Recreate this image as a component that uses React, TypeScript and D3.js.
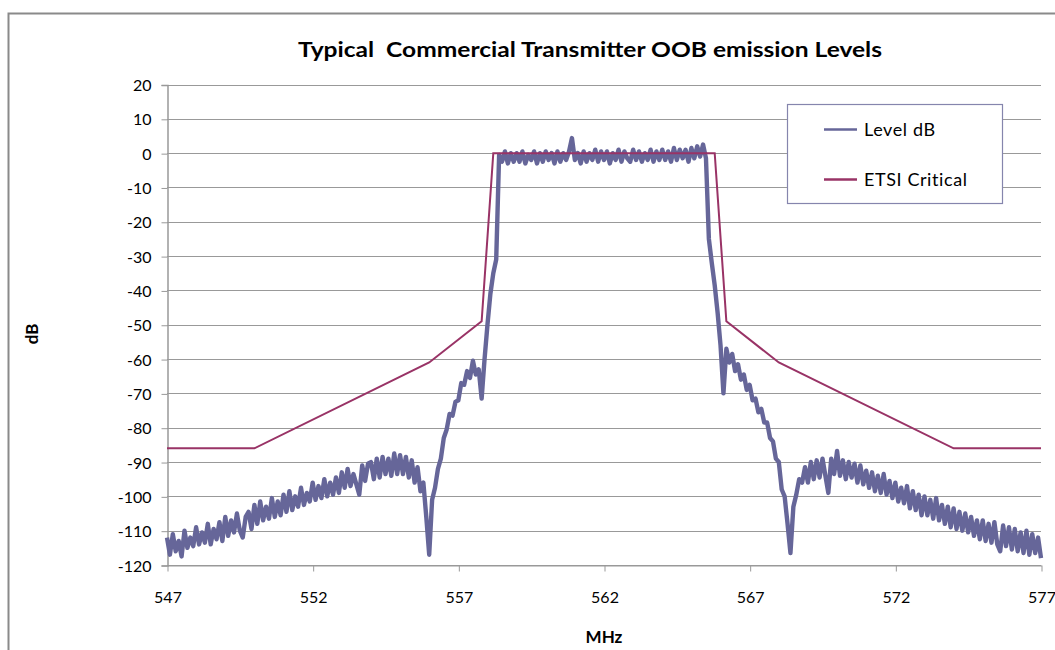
import * as d3 from "d3";
import { useEffect, useRef } from "react";

// x axis ticks (MHz) and y axis ticks (dB)
const freqTicks = [547, 552, 557, 562, 567, 572, 577];
const dbTicks = [-120, -110, -100, -90, -80, -70, -60, -50, -40, -30, -20, -10, 0, 10, 20];

// ETSI Critical mask
const etsiFreq = [547, 550, 556, 557.8, 558.2, 565.8, 566.2, 568, 574, 577];
const etsiDb = [-86, -86, -61, -49, 0, 0, -49, -61, -86, -86];

// measured level, one value per 0.1 MHz starting at 547.0 (one row per MHz)
const levelStart = 547;
const levelStep = 0.1;
const levelDb = [
    -112, -117, -111, -116, -113, -117.5, -110, -115, -112, -114.5, // 547
    -109, -114, -110.5, -113.5, -108, -114, -109.5, -112.5, -107.5, -113, // 548
    -106, -111.5, -107, -110.5, -105, -110, -112, -106, -104.5, -109.5, // 549
    -102.5, -108, -101.5, -107, -103, -106.5, -100.5, -106, -101.5, -105.5, // 550
    -99.5, -104.5, -98.5, -104, -100, -103, -97.5, -102.5, -99, -101.5, // 551
    -96, -101, -97, -100.5, -95, -100, -96, -99.5, -94.5, -99, // 552
    -93, -97.5, -92, -97, -93.5, -96.5, -99.5, -91, -95.5, -90.5, // 553
    -90, -95, -89, -94.5, -88.5, -93.5, -89, -94, -87.5, -93.5, // 554
    -88, -93.5, -88.5, -94.5, -89.5, -96, -91.5, -98.5, -96, -106, // 555
    -117, -101, -97.5, -92, -89, -83, -80.5, -76, -76.5, -72.5, // 556
    -72, -67, -67.5, -63.5, -65.5, -60.5, -64.5, -63, -71.5, -60, // 557
    -50, -41, -35, -31, -0.5, -2.5, 0.5, -3, 0, -2.5, // 558
    0, -2.5, 0.5, -3, -0.5, -2, 0.5, -3, 0, -2.5, // 559
    0.5, -2, 0, -3, 0.5, -2.5, 0, -2, 0.5, 4.4, // 560
    -2, 0, -3, 0.5, -2.5, 0, -2, 1, -2.5, 0.5, // 561
    -2, 0.5, -3, 0, -2, 1, -2.5, 0.5, -1.5, -2.5, // 562
    1, -2, 0.5, -2.5, 0, -2, 1, -2.5, 0.5, -2, // 563
    1, -2, 0.5, -2.5, 1.5, -2, 1, -1.5, 1, -2.5, // 564
    1.5, -1.5, 2, -1, 2.5, -1.5, -25, -32, -38.5, -46.5, // 565
    -56, -70, -57, -61, -58.5, -63.5, -61.5, -66, -64.5, -69, // 566
    -67.5, -72, -71.5, -75.5, -74.5, -78.5, -78.5, -83, -84, -89, // 567
    -90, -98, -100, -108, -116.5, -103, -99.5, -95, -96, -91.5, // 568
    -96, -90, -95, -89.5, -94.5, -89, -94, -99, -89, -93.5, // 569
    -86.8, -94, -89.5, -95, -90, -94.5, -90.5, -96, -91, -96.5, // 570
    -92.5, -97.5, -93, -98.5, -94, -99, -93.5, -99.5, -95.5, -100.5, // 571
    -96, -101.5, -97.5, -102, -97, -103.5, -98.5, -104, -99.5, -105.5, // 572
    -100, -105.5, -101, -106.5, -100.5, -107, -102.5, -108, -103, -109, // 573
    -103.5, -109.5, -104.5, -110, -105, -110.5, -106, -111.5, -107, -112.5, // 574
    -107, -113, -108, -113.5, -107.5, -114, -116, -108.5, -114.5, -109, // 575
    -115.5, -109.5, -116, -110.5, -116.5, -110, -117, -111, -116.5, -112, // 576
    -118 // 577
];

const seriesNames = ["Level dB", "ETSI Critical"];
const seriesColors = ["#666699", "#993366"];

export default function App() {
    const ref = useRef(null);

    useEffect(() => {
        const width = 1055, height = 650;
        const left = 167, right = 1041, top = 84.5, bottom = 565;
        const font = "Lato, 'Open Sans', sans-serif";

        const svg = d3.select(ref.current);
        svg.selectAll("*").remove();
        svg.attr("width", width).attr("height", height);

        const x = d3.scaleLinear().domain([547, 577]).range([left, right]);
        const y = d3.scaleLinear().domain([-120, 20]).range([bottom, top]);

        // chart frame (clipped on the right and bottom)
        svg.append("path")
            .attr("d", `M8.5,${height} V13.5 H${width}`)
            .attr("fill", "none")
            .attr("stroke", "#8a8a8a")
            .attr("stroke-width", 2);

        // title
        svg.append("text")
            .attr("x", 590)
            .attr("y", 57)
            .attr("text-anchor", "middle")
            .attr("font-family", font)
            .attr("font-weight", "bold")
            .attr("font-size", 20)
            .attr("textLength", 584)
            .attr("lengthAdjust", "spacingAndGlyphs")
            .text("Typical  Commercial Transmitter OOB emission Levels")
            .style("white-space", "pre");

        // gridlines
        svg.append("g")
            .selectAll("line")
            .data(dbTicks)
            .enter()
            .append("line")
            .attr("x1", left)
            .attr("x2", right)
            .attr("y1", d => Math.round(y(d)) + 0.5)
            .attr("y2", d => Math.round(y(d)) + 0.5)
            .attr("stroke", "#999")
            .attr("stroke-width", 1);

        // y axis
        const yAxis = svg.append("g")
            .attr("transform", `translate(${left + 0.5},0.5)`)
            .call(d3.axisLeft(y).tickValues(dbTicks).tickSize(6).tickPadding(10).tickFormat(d => String(d)));
        yAxis.select(".domain").attr("stroke", "#999").attr("stroke-width", 1.5);
        yAxis.selectAll(".tick line").attr("stroke", "#999");
        yAxis.selectAll(".tick text")
            .attr("font-family", font)
            .attr("font-size", 16)
            .attr("fill", "#000")
            .attr("dy", "0.35em");

        // x axis
        const xAxis = svg.append("g")
            .attr("transform", `translate(0.5,${Math.round(bottom) + 0.5})`)
            .call(d3.axisBottom(x).tickValues(freqTicks).tickSize(6).tickPadding(20).tickSizeOuter(0).tickFormat(d => String(d)));
        xAxis.select(".domain").attr("stroke", "#999").attr("stroke-width", 1);
        xAxis.selectAll(".tick line").attr("stroke", "#999");
        xAxis.selectAll(".tick text")
            .attr("font-family", font)
            .attr("font-size", 16)
            .attr("fill", "#000");

        // axis titles
        svg.append("text")
            .attr("transform", "translate(38,334) rotate(-90)")
            .attr("text-anchor", "middle")
            .attr("font-family", font)
            .attr("font-weight", "bold")
            .attr("font-size", 17)
            .text("dB");

        svg.append("text")
            .attr("x", 604)
            .attr("y", 643)
            .attr("text-anchor", "middle")
            .attr("font-family", font)
            .attr("font-weight", "bold")
            .attr("font-size", 17)
            .text("MHz");

        const line = d3.line()
            .x(d => x(d[0]))
            .y(d => y(d[1]));

        const levelPoints = levelDb.map((v, i) => [levelStart + i * levelStep, v]);
        const etsiPoints = etsiFreq.map((f, i) => [f, etsiDb[i]]);

        svg.append("path")
            .datum(levelPoints)
            .attr("d", line)
            .attr("fill", "none")
            .attr("stroke", seriesColors[0])
            .attr("stroke-width", 4.4)
            .attr("stroke-linejoin", "round");

        svg.append("path")
            .datum(etsiPoints)
            .attr("d", line)
            .attr("fill", "none")
            .attr("stroke", seriesColors[1])
            .attr("stroke-width", 2);

        // legend
        const legend = svg.append("g");
        legend.append("rect")
            .attr("x", 787.5)
            .attr("y", 104.5)
            .attr("width", 215)
            .attr("height", 99)
            .attr("fill", "#fff")
            .attr("stroke", "#8585ad")
            .attr("stroke-width", 1.2);

        const item = legend.selectAll("g.item")
            .data(seriesNames)
            .enter()
            .append("g")
            .attr("class", "item")
            .attr("transform", (d, i) => `translate(0,${129.5 + i * 50})`);

        item.append("line")
            .attr("x1", 824)
            .attr("x2", 857)
            .attr("stroke", (d, i) => seriesColors[i])
            .attr("stroke-width", 2.5);

        item.append("text")
            .attr("x", 864)
            .attr("dy", "0.35em")
            .attr("font-family", font)
            .attr("font-size", 18)
            .attr("letter-spacing", 0.6)
            .attr("fill", "#000")
            .text(d => d);
    }, []);

    return <svg ref={ref} style={{ position: "absolute", left: 0, top: 0 }}></svg>;
}
